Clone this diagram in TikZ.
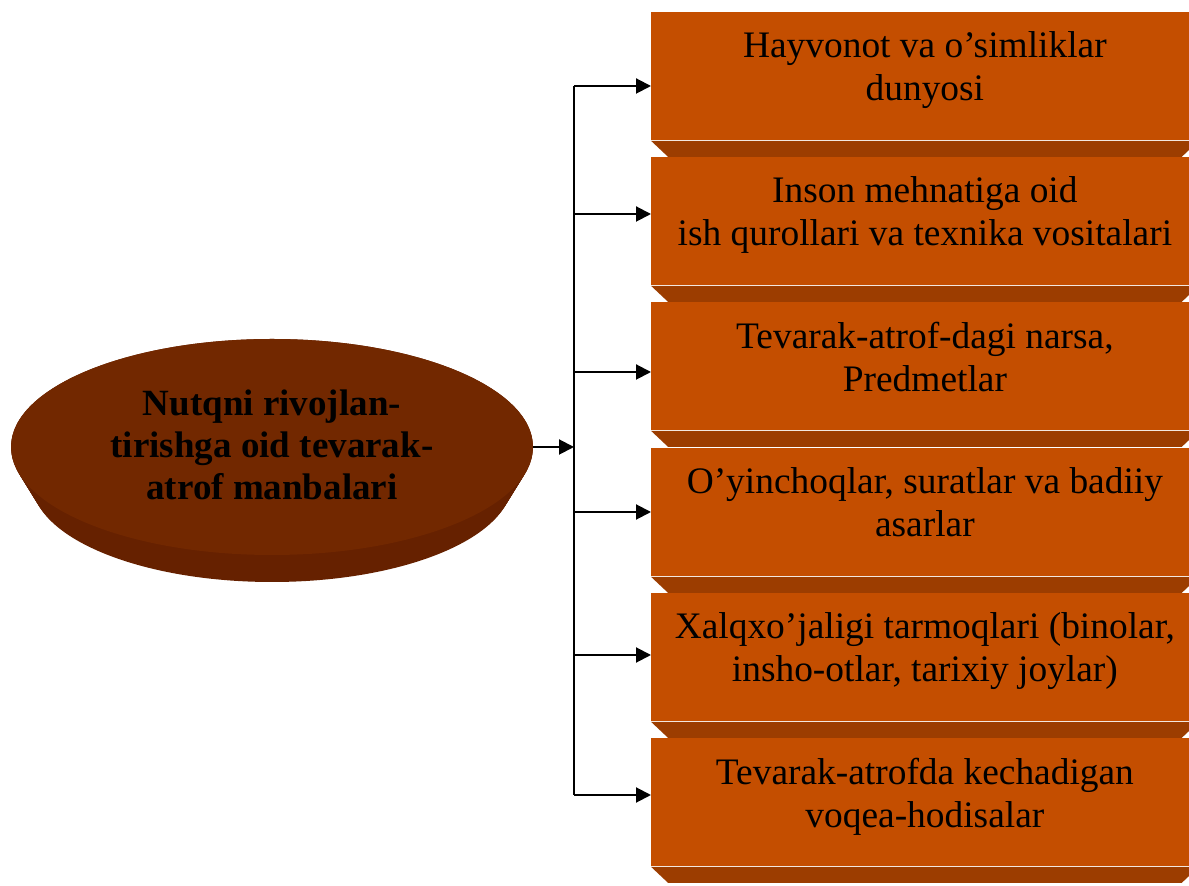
\documentclass[tikz,border=0pt]{standalone}
\usepackage{fontspec}
\setmainfont{Liberation Serif}
\usetikzlibrary{arrows.meta,positioning,calc,shapes.geometric}
\definecolor{facecol}{RGB}{196,78,0}
\definecolor{bevelcol}{RGB}{156,61,0}
\definecolor{disccol}{RGB}{114,40,0}
\definecolor{sidecol}{RGB}{102,33,0}
\tikzset{
  srcbox/.style={fill=facecol, anchor=north west, minimum width=273.5pt, minimum height=64pt, inner sep=0pt, align=center, text depth=10pt, font=\fontsize{18.7}{21.5}\selectfont},
  bevel/.style={fill=bevelcol},
  disc/.style={ellipse, fill=disccol, minimum width=261pt, minimum height=108pt, inner sep=0pt},
  disctext/.style={align=center, font=\bfseries\fontsize{18.5}{21}\selectfont},
  arr/.style={-{Triangle[length=7.5pt,width=7.5pt]}, line width=1pt},
  bus/.style={line width=1pt}}

\begin{document}
\begin{tikzpicture}[x=0.5pt, y=-0.5pt]
  \useasboundingbox (0,0) rectangle (1189,886);
  % source disc: side of the disc, then its top
  \foreach \t in {0,...,20} {
    \pgfmathsetmacro\cy{447+1.75*\t}
    \pgfmathsetmacro\rx{130.5-0.525*\t}
    \pgfmathsetmacro\ry{54-0.2*\t}
    \fill[sidecol] (272,\cy) ellipse[x radius=\rx pt, y radius=\ry pt];
  }
  \node[disc] (src) at (272,447) {};
  \node[disctext] (srctxt) at ([yshift=1pt]src.center) {Nutqni rivojlan-\\tirishga oid tevarak-\\atrof manbalari};
  % vertical bus
  \coordinate (bustop) at (574,86);
  \coordinate (busbot) at (574,795);
  \coordinate (hub) at (src.east -| bustop);
  \draw[bus] (bustop) -- (busbot);
  \draw[arr] (src.east) -- (hub);
  % source boxes
  \foreach \i/\top/\ay/\txt in {
      1/12/86/{Hayvonot va o’simliklar\\dunyosi},
      2/157/214/{Inson mehnatiga oid\\ish qurollari va texnika vositalari},
      3/302/372/{Tevarak-atrof-dagi narsa,\\Predmetlar},
      4/448/512/{O’yinchoqlar, suratlar va badiiy\\asarlar},
      5/593/655/{Xalqxo’jaligi tarmoqlari (binolar,\\insho-otlar, tarixiy joylar)},
      6/738/795/{Tevarak-atrofda kechadigan\\voqea-hodisalar}} {
    \node[srcbox] (b\i) at (651,\top) {\txt};
    \fill[bevel] (b\i.south west) -- (b\i.south east) -- ++(-17,16) -- ($(b\i.south west)+(17,16)$) -- cycle;
    \coordinate (j\i) at (574,\ay);
    \draw[arr] (j\i) -- (j\i -| b\i.west);
  }
\end{tikzpicture}
\end{document}
